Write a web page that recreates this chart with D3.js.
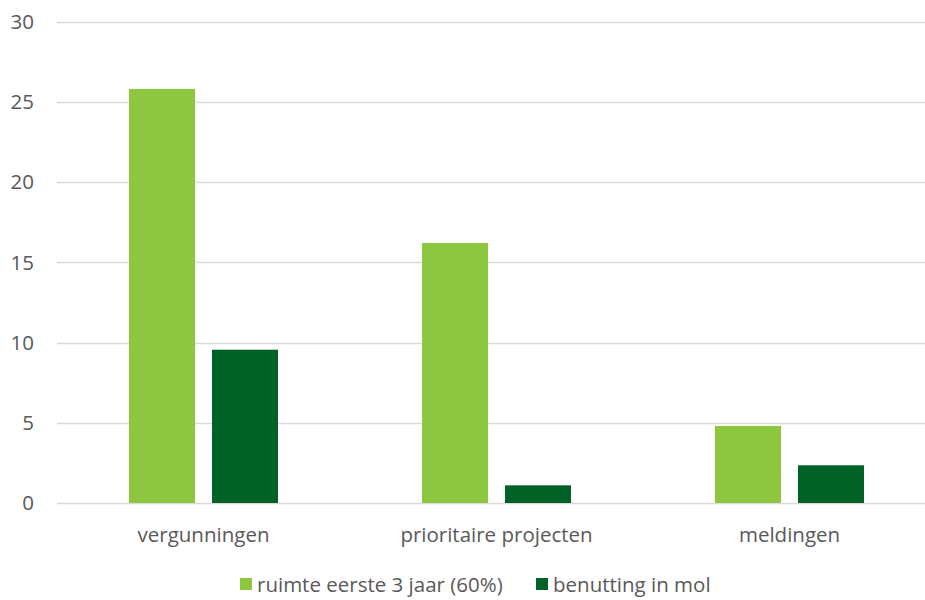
<!DOCTYPE html>
<html><head><meta charset="utf-8">
<script src="https://cdn.jsdelivr.net/npm/d3@7"></script>
<style>body{margin:0;background:#fff}svg{display:block}</style>
</head><body><svg id="c" width="925" height="600"></svg>
<script>
const categories = ["vergunningen", "prioritaire projecten", "meldingen"];
const seriesNames = ["ruimte eerste 3 jaar (60%)", "benutting in mol"];
const ruimte = [25.8, 16.2, 4.8];
const benutting = [9.55, 1.1, 2.35];
const yTicks = [0, 5, 10, 15, 20, 25, 30];
const colors = ["#8DC63F", "#006227"];

const svg = d3.select("#c");
const font = "'Open Sans', sans-serif";
const fs = 20.5;
const textColor = "#595959";
const y = d3.scaleLinear().domain([0, 30]).range([503, 21.5]);
const x = d3.scaleBand().domain(categories).range([57, 936]);
const xs = d3.scaleBand().domain(seriesNames).range([72, 221]).paddingInner(17/83);

const grid = svg.append("g");
grid.selectAll("line").data(yTicks).join("line")
  .attr("x1", 57).attr("x2", 925)
  .attr("y1", d => Math.round(y(d)) + 0.5).attr("y2", d => Math.round(y(d)) + 0.5)
  .attr("stroke", "#d9d9d9").attr("stroke-width", 1.5);

const yAxis = d3.axisLeft(y).tickValues(yTicks).tickSize(0).tickPadding(0);
const ya = svg.append("g").attr("transform", "translate(34,0)").call(yAxis);
ya.select(".domain").remove();
ya.selectAll("text").attr("font-family", font).attr("font-size", fs).attr("fill", textColor)
  .attr("text-anchor", "end").attr("dy", "0.34em");

const data = categories.map((c, i) => ({cat: c, vals: [ruimte[i], benutting[i]]}));
const groups = svg.append("g").selectAll("g").data(data).join("g")
  .attr("transform", d => `translate(${x(d.cat)},0)`);
groups.selectAll("rect").data(d => d.vals.map((v, j) => ({v, s: seriesNames[j], j})))
  .join("rect")
  .attr("x", d => xs(d.s)).attr("width", xs.bandwidth())
  .attr("y", d => y(d.v)).attr("height", d => y(0) - y(d.v))
  .attr("fill", d => colors[d.j]);

const xAxis = d3.axisBottom(x).tickSize(0).tickPadding(0);
const xa = svg.append("g").attr("transform", "translate(0,542)").call(xAxis);
xa.select(".domain").remove();
xa.selectAll("text").attr("font-family", font).attr("font-size", fs).attr("fill", textColor).attr("dy", 0);

const legX = [240, 536];
const leg = svg.append("g").selectAll("g").data(seriesNames).join("g")
  .attr("transform", (d, i) => `translate(${legX[i]},578)`);
leg.append("rect").attr("width", 12).attr("height", 12).attr("fill", (d, i) => colors[i]);
leg.append("text").attr("x", 17).attr("y", 14).text(d => d)
  .attr("font-family", font).attr("font-size", fs).attr("fill", textColor);
</script></body></html>
